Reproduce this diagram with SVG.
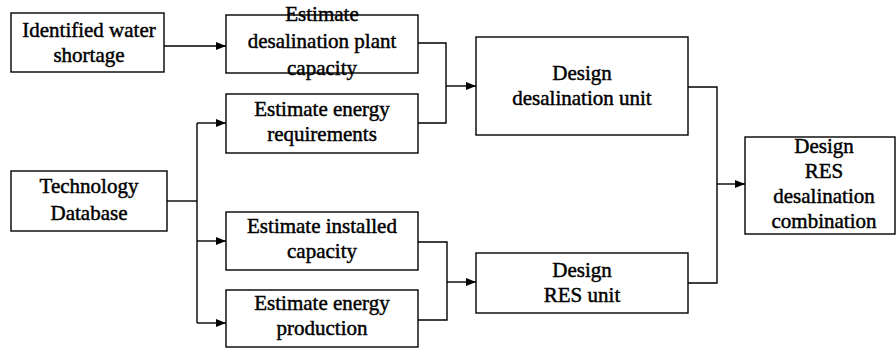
<svg xmlns="http://www.w3.org/2000/svg" width="896" height="349" viewBox="0 0 896 349">
<style>
.box{fill:#fff;stroke:#000;stroke-width:1.4}
.t{font-family:"Liberation Serif","Times New Roman",serif;font-size:21px;fill:#000;text-anchor:middle;stroke:#000;stroke-width:0.45}
.c{fill:none;stroke:#000;stroke-width:1.4}
</style>
<defs>
<marker id="a" viewBox="0 0 10 8" refX="10" refY="4" markerWidth="10" markerHeight="8" markerUnits="userSpaceOnUse" orient="auto">
<path d="M0,0 L10,4 L0,8 z" fill="#000"/>
</marker>
</defs>
<rect width="896" height="349" fill="#fff"/>
<g id="connectors">
<path class="c" d="M164,46 H226" marker-end="url(#a)"/>
<path class="c" d="M418,43 H446 V123 H418"/>
<path class="c" d="M446,86 H476" marker-end="url(#a)"/>
<path class="c" d="M167,201 H197"/>
<path class="c" d="M197,123 V323"/>
<path class="c" d="M197,123 H226" marker-end="url(#a)"/>
<path class="c" d="M197,241 H226" marker-end="url(#a)"/>
<path class="c" d="M197,323 H226" marker-end="url(#a)"/>
<path class="c" d="M418,242 H447 V320 H418"/>
<path class="c" d="M447,282 H476" marker-end="url(#a)"/>
<path class="c" d="M688,87 H717 V283 H688"/>
<path class="c" d="M717,184 H745" marker-end="url(#a)"/>
</g>
<g id="n1"><rect class="box" x="11" y="13" width="153" height="59"/>
<text class="t" x="89" y="37">Identified water</text><text class="t" x="89" y="62">shortage</text></g>
<g id="n2"><rect class="box" x="226" y="15" width="192" height="58"/>
<text class="t" x="322" y="21">Estimate</text><text class="t" x="322" y="48">desalination plant</text><text class="t" x="322" y="75">capacity</text></g>
<g id="n3"><rect class="box" x="226" y="94" width="192" height="59"/>
<text class="t" x="322" y="116">Estimate energy</text><text class="t" x="322" y="141">requirements</text></g>
<g id="n4"><rect class="box" x="11" y="171" width="156" height="60"/>
<text class="t" x="89" y="193">Technology</text><text class="t" x="89" y="220">Database</text></g>
<g id="n5"><rect class="box" x="226" y="212" width="192" height="58"/>
<text class="t" x="322" y="233">Estimate installed</text><text class="t" x="322" y="258">capacity</text></g>
<g id="n6"><rect class="box" x="226" y="290" width="192" height="57"/>
<text class="t" x="322" y="310">Estimate energy</text><text class="t" x="322" y="335">production</text></g>
<g id="n7"><rect class="box" x="476" y="37" width="212" height="98"/>
<text class="t" x="582" y="80">Design</text><text class="t" x="582" y="105">desalination unit</text></g>
<g id="n8"><rect class="box" x="476" y="253" width="212" height="60"/>
<text class="t" x="582" y="277">Design</text><text class="t" x="582" y="302">RES unit</text></g>
<g id="n9"><rect class="box" x="745" y="137" width="150" height="97"/>
<text class="t" x="824" y="153">Design</text><text class="t" x="824" y="178">RES</text><text class="t" x="824" y="203">desalination</text><text class="t" x="824" y="228">combination</text></g>
</svg>
